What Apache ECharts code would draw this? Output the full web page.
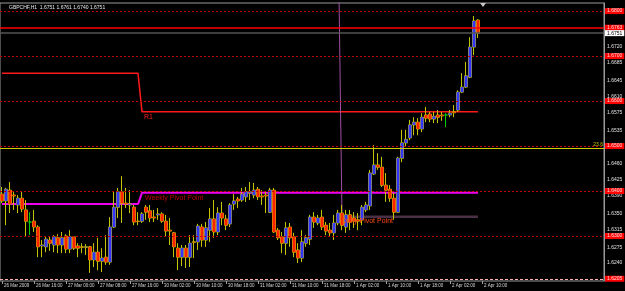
<!DOCTYPE html>
<html>
<head>
<meta charset="utf-8">
<script src="https://cdn.jsdelivr.net/npm/echarts@6/dist/echarts.min.js"></script>
<style>
html,body{margin:0;padding:0;background:#000;}
#main{width:625px;height:291px;}
</style>
</head>
<body>
<div id="main"></div>
<script>
// GBPCHF H1, 26 Mar 2009 - 2 Apr 2009
var timeLabels = ['26 Mar 2009','26 Mar 16:00','27 Mar 00:00','27 Mar 08:00','27 Mar 16:00','30 Mar 02:00',
    '30 Mar 10:00','30 Mar 18:00','31 Mar 02:00','31 Mar 10:00','31 Mar 18:00','1 Apr 02:00',
    '1 Apr 10:00','1 Apr 18:00','2 Apr 02:00','2 Apr 10:00'];

// open, close, low, high
var candles = [
    [1.6393,1.6378,1.6373,1.6409],[1.6378,1.6404,1.6324,1.6407],[1.6402,1.6371,1.6351,1.6420],[1.6391,1.6389,1.6358,1.6398],
    [1.6369,1.6384,1.6351,1.6391],[1.6384,1.6360,1.6353,1.6398],[1.6358,1.6333,1.6298,1.6380],[1.6331,1.6331,1.6302,1.6353],
    [1.6333,1.6320,1.6309,1.6358],[1.6320,1.6276,1.6253,1.6324],[1.6278,1.6280,1.6253,1.6291],[1.6276,1.6293,1.6264,1.6300],
    [1.6291,1.6284,1.6267,1.6298],[1.6280,1.6298,1.6264,1.6302],[1.6296,1.6280,1.6262,1.6304],[1.6280,1.6296,1.6262,1.6309],
    [1.6300,1.6271,1.6262,1.6304],[1.6271,1.6298,1.6262,1.6313],[1.6298,1.6273,1.6269,1.6300],[1.6278,1.6273,1.6253,1.6284],
    [1.6276,1.6275,1.6262,1.6284],[1.6275,1.6276,1.6258,1.6282],[1.6276,1.6247,1.6218,1.6278],[1.6247,1.6264,1.6231,1.6284],
    [1.6264,1.6244,1.6224,1.6296],[1.6244,1.6251,1.6220,1.6273],[1.6253,1.6242,1.6236,1.6302],[1.6242,1.6320,1.6236,1.6342],
    [1.6320,1.6364,1.6318,1.6398],[1.6364,1.6398,1.6340,1.6407],[1.6398,1.6373,1.6329,1.6433],[1.6373,1.6371,1.6362,1.6407],
    [1.6369,1.6371,1.6351,1.6402],[1.6364,1.6331,1.6324,1.6369],[1.6333,1.6332,1.6324,1.6353],[1.6333,1.6349,1.6329,1.6353],
    [1.6364,1.6353,1.6336,1.6369],[1.6356,1.6340,1.6331,1.6369],[1.6342,1.6340,1.6331,1.6358],[1.6347,1.6349,1.6336,1.6362],
    [1.6349,1.6333,1.6329,1.6353],[1.6333,1.6311,1.6298,1.6347],[1.6313,1.6311,1.6280,1.6340],[1.6307,1.6276,1.6253,1.6309],
    [1.6273,1.6253,1.6224,1.6284],[1.6253,1.6273,1.6233,1.6280],[1.6273,1.6253,1.6229,1.6280],[1.6253,1.6284,1.6231,1.6302],
    [1.6287,1.6286,1.6251,1.6302],[1.6287,1.6322,1.6269,1.6327],[1.6320,1.6291,1.6276,1.6327],[1.6291,1.6318,1.6276,1.6331],
    [1.6313,1.6338,1.6287,1.6362],[1.6338,1.6309,1.6296,1.6380],[1.6309,1.6351,1.6302,1.6364],[1.6351,1.6340,1.6324,1.6376],
    [1.6338,1.6324,1.6313,1.6347],[1.6327,1.6369,1.6320,1.6373],[1.6371,1.6378,1.6358,1.6393],[1.6382,1.6378,1.6362,1.6387],
    [1.6380,1.6393,1.6376,1.6407],[1.6387,1.6398,1.6376,1.6409],[1.6396,1.6398,1.6380,1.6420],[1.6391,1.6402,1.6384,1.6418],
    [1.6404,1.6387,1.6380,1.6409],[1.6389,1.6387,1.6369,1.6402],[1.6391,1.6389,1.6351,1.6398],[1.6353,1.6402,1.6351,1.6407],
    [1.6402,1.6309,1.6307,1.6407],[1.6313,1.6296,1.6291,1.6318],[1.6298,1.6284,1.6262,1.6309],[1.6284,1.6318,1.6258,1.6331],
    [1.6320,1.6296,1.6276,1.6329],[1.6298,1.6264,1.6253,1.6307],[1.6269,1.6251,1.6240,1.6284],[1.6251,1.6287,1.6242,1.6313],
    [1.6284,1.6296,1.6276,1.6302],[1.6293,1.6342,1.6280,1.6347],[1.6342,1.6331,1.6318,1.6353],[1.6329,1.6340,1.6324,1.6347],
    [1.6342,1.6320,1.6313,1.6358],[1.6324,1.6311,1.6302,1.6331],[1.6313,1.6307,1.6298,1.6329],[1.6307,1.6329,1.6291,1.6347],
    [1.6329,1.6351,1.6324,1.6358],[1.6351,1.6324,1.6313,1.6369],[1.6320,1.6347,1.6307,1.6358],[1.6347,1.6331,1.6313,1.6358],
    [1.6340,1.6333,1.6318,1.6353],[1.6336,1.6333,1.6313,1.6351],[1.6336,1.6364,1.6324,1.6369],[1.6358,1.6369,1.6353,1.6376],
    [1.6367,1.6440,1.6358,1.6447],[1.6438,1.6458,1.6436,1.6502],[1.6458,1.6453,1.6447,1.6484],[1.6453,1.6413,1.6409,1.6476],
    [1.6413,1.6402,1.6376,1.6440],[1.6404,1.6384,1.6376,1.6413],[1.6384,1.6353,1.6336,1.6396],[1.6353,1.6473,1.6351,1.6476],
    [1.6473,1.6507,1.6464,1.6536],[1.6507,1.6515,1.6498,1.6536],[1.6518,1.6547,1.6513,1.6558],[1.6547,1.6553,1.6524,1.6564],
    [1.6553,1.6538,1.6524,1.6562],[1.6538,1.6564,1.6531,1.6573],[1.6569,1.6562,1.6553,1.6587],[1.6571,1.6560,1.6553,1.6576],
    [1.6560,1.6566,1.6551,1.6576],[1.6569,1.6564,1.6551,1.6580],[1.6569,1.6567,1.6556,1.6576],[1.6569,1.6569,1.6542,1.6573],
    [1.6569,1.6573,1.6564,1.6580],[1.6576,1.6574,1.6564,1.6591],[1.6580,1.6620,1.6576,1.6624],[1.6620,1.6631,1.6618,1.6662],
    [1.6631,1.6656,1.6629,1.6687],[1.6653,1.6720,1.6651,1.6742],[1.6720,1.6778,1.6702,1.6789],[1.6780,1.6751,1.6740,1.6782]
];

var yTickLabels = [1.6720,1.6685,1.6645,1.6610,1.6575,1.6535,1.6460,1.6425,1.6390,1.6350,1.6315,1.6275,1.6240];
var roundLevels = [1.6800,1.6700,1.6600,1.6500,1.6400,1.6300];
var resistLevel = 1.6763;
var bidPrice = 1.6751;
var fiboLevel = 1.6496;
var bottomLevel = 1.6205;

var r1Levels = [1.6662, 1.6576];
var weeklyPivot = [1.6371, 1.6396];
var weekStart = 35;
var dailyPivot = [1.7000, 1.6343];   // previous day (off chart), current day
var dayStart = 85;

var slotCount = 151;
var xData = [];
for (var i = 0; i < slotCount; i++) xData.push(String(i));

var green = '#00d000';
var wickData = candles.map(function (c) {
    if (c[0] === c[1]) {
        return {value: c, itemStyle: {color: green, color0: green, borderColor: green, borderColor0: green}};
    }
    return c;
});
// bodies only, drawn over the yellow wick candles
var bodyData = candles.map(function (c) {
    return [c[0], c[1], Math.min(c[0], c[1]), Math.max(c[0], c[1])];
});

var r1Data = candles.map(function (c, i) { return i < weekStart ? r1Levels[0] : r1Levels[1]; });
var wpData = candles.map(function (c, i) { return i < weekStart ? weeklyPivot[0] : weeklyPivot[1]; });
var dpData = candles.map(function (c, i) { return i < dayStart ? '-' : dailyPivot[1]; });
var dpJump = candles.map(function (c, i) {
    if (i === dayStart - 1) return dailyPivot[0];
    if (i === dayStart) return dailyPivot[1];
    return '-';
});

var tickKeys = yTickLabels.map(function (v) { return Math.round(v * 10000); });

function priceText(p) { return Number(p.value).toFixed(4); }
function boxLabel(bg, fg) {
    return {
        show: true, position: 'end', distance: 1,
        backgroundColor: bg, color: fg,
        fontSize: 5, fontFamily: 'Liberation Sans', padding: [1, 2, 0, 2],
        formatter: priceText
    };
}

// fibo first so the red dotted levels sit on top of it
var levelLines = [{yAxis: fiboLevel, lineStyle: {color: '#d0d000', type: 'solid', width: 1},
    label: {show: true, position: 'insideEndTop', distance: 1, color: '#c8c800', fontSize: 5,
        fontFamily: 'Liberation Sans', formatter: '23.6'}}];
roundLevels.forEach(function (v) {
    levelLines.push({yAxis: v, lineStyle: {color: '#c00000', type: [2, 2], width: 1}, label: boxLabel('#ff0000', '#ffe0e0')});
});
levelLines.push({yAxis: resistLevel, lineStyle: {color: '#ff0000', type: 'solid', width: 1.5}, label: boxLabel('#ff0000', '#ffe0e0')});
levelLines.push({yAxis: bidPrice, lineStyle: {color: '#555555', type: 'solid', width: 1.5}, label: boxLabel('#ffffff', '#000000')});
levelLines.push({yAxis: bottomLevel, lineStyle: {color: '#ffb0b0', type: [3, 2], width: 1}, label: boxLabel('#ff0000', '#ffe0e0')});

var chart = echarts.init(document.getElementById('main'));
var option = {
    backgroundColor: '#000',
    animation: false,
    title: {
        text: 'GBPCHF,H1  1.6751 1.6761 1.6740 1.6751',
        left: 4, top: 0,
        textStyle: {color: '#e8e8e8', fontSize: 5, fontWeight: 'normal', fontFamily: 'Liberation Sans'}
    },
    grid: {left: 0, right: 21, top: 3, bottom: 10, show: true, borderColor: '#9a9a9a', borderWidth: 1, outerBoundsMode: 'none'},
    xAxis: {
        type: 'category',
        data: xData,
        boundaryGap: true,
        axisLine: {show: false},
        axisTick: {
            show: true, alignWithLabel: true, length: 3,
            interval: function (idx) { return idx % 8 === 0 && idx / 8 < timeLabels.length; },
            lineStyle: {color: '#a0a0a0'}
        },
        axisLabel: {
            interval: 0, color: '#d8d8d8', fontSize: 4.5, fontFamily: 'Liberation Sans',
            align: 'left', margin: 2, padding: [0, 0, 0, 2],
            formatter: function (v, idx) {
                return (idx % 8 === 0 && timeLabels[idx / 8]) ? timeLabels[idx / 8] : '';
            }
        },
        splitLine: {show: false}
    },
    yAxis: {
        type: 'value',
        position: 'right',
        min: 1.6200, max: 1.6818, interval: 0.0005,
        axisLine: {show: true, lineStyle: {color: '#9a9a9a'}},
        axisTick: {show: false},
        splitLine: {show: false},
        axisLabel: {
            color: '#e0e0e0', fontSize: 5, fontFamily: 'Liberation Sans', margin: 3,
            formatter: function (v) {
                return tickKeys.indexOf(Math.round(v * 10000)) >= 0 ? v.toFixed(4) : '';
            }
        }
    },
    series: [
        {
            name: 'Levels', type: 'line', data: r1Data.map(function () { return '-'; }),
            symbol: 'none', silent: true, z: 1,
            markLine: {symbol: 'none', silent: true, precision: 4, data: levelLines}
        },
        {
            name: 'R1', type: 'line', data: r1Data, symbol: 'none', silent: true,
            lineStyle: {color: '#ff1a1a', width: 1.5}, z: 2,
            markPoint: {
                symbolSize: 0, silent: true,
                data: [{coord: [weekStart, r1Levels[1]],
                    label: {show: true, position: 'right', distance: 0, offset: [2, 5], formatter: 'R1',
                        color: '#ff2020', fontSize: 7, fontFamily: 'Liberation Sans'}}]
            }
        },
        {
            name: 'Weekly Pivot', type: 'line', data: wpData, symbol: 'none', silent: true,
            lineStyle: {color: '#f000f0', width: 2}, z: 2,
            markPoint: {
                symbolSize: 0, silent: true,
                data: [{coord: [weekStart, weeklyPivot[1]],
                    label: {show: true, position: 'right', distance: 0, offset: [3, 5], formatter: 'Weekly Pivot Point',
                        color: '#c00000', fontSize: 7, fontFamily: 'Liberation Sans'}}]
            }
        },
        {
            name: 'Daily Pivot jump', type: 'line', data: dpJump, symbol: 'none', silent: true,
            lineStyle: {color: '#a050a0', width: 1}, z: 2
        },
        {
            name: 'Daily Pivot', type: 'line', data: dpData, symbol: 'none', silent: true,
            lineStyle: {color: '#4a3045', width: 2.5}, z: 2,
            markPoint: {
                symbolSize: 0, silent: true,
                data: [{coord: [dayStart, dailyPivot[1]],
                    label: {show: true, position: 'right', distance: 0, offset: [0, 4], formatter: 'Daily Pivot Point',
                        color: '#ff4a10', fontSize: 7, fontFamily: 'Liberation Sans'}}]
            }
        },
        {
            name: 'GBPCHF', type: 'candlestick', data: wickData, barWidth: 3, silent: true, z: 3,
            itemStyle: {
                color: '#c4c400', color0: '#c4c400',
                borderColor: '#c4c400', borderColor0: '#c4c400', borderWidth: 1
            }
        },
        {
            name: 'Bodies', type: 'candlestick', data: bodyData, barWidth: 3, silent: true, z: 4,
            itemStyle: {
                color: '#3434ff', color0: '#ff2200',
                borderColor: '#3434ff', borderColor0: '#ff2200', borderWidth: 0
            }
        }
    ],
    graphic: [
        {type: 'polygon', shape: {points: [[480, 3], [486, 3], [483, 7]]}, style: {fill: '#c8c8c8'}, silent: true}
    ]
};
chart.setOption(option);
window.onresize = chart.resize;
</script>
</body>
</html>
